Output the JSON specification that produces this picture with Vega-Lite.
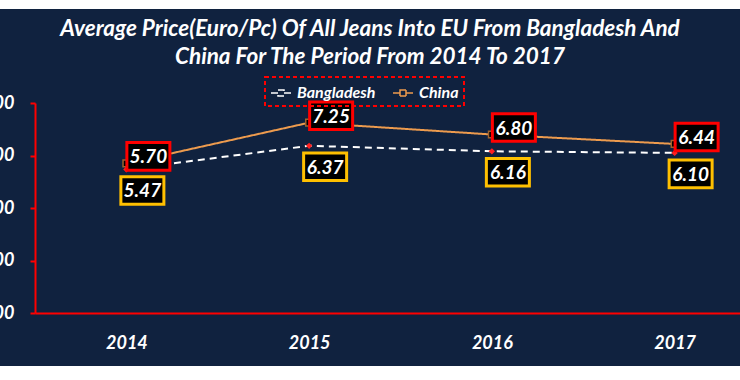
{
  "$schema": "https://vega.github.io/schema/vega-lite/v6.json",
  "autosize": {"type": "none"},
  "width": 740,
  "height": 357,
  "padding": {"left": 0, "top": 9, "right": 0, "bottom": 14},
  "background": "#ffffff",
  "title": {
    "text": ["Average Price(Euro/Pc) Of All Jeans Into EU From Bangladesh And", "China For The Period From 2014 To 2017"],
    "anchor": "middle",
    "orient": "top",
    "baseline": "top",
    "offset": -59,
    "font": "Lato",
    "fontSize": 22.5,
    "fontWeight": "bold",
    "fontStyle": "italic",
    "color": "#ffffff",
    "lineHeight": 28
  },
  "data": {
    "values": [
      {"year": "2014", "series": "Bangladesh", "price": 5.47},
      {"year": "2015", "series": "Bangladesh", "price": 6.37},
      {"year": "2016", "series": "Bangladesh", "price": 6.16},
      {"year": "2017", "series": "Bangladesh", "price": 6.10},
      {"year": "2014", "series": "China", "price": 5.70},
      {"year": "2015", "series": "China", "price": 7.25},
      {"year": "2016", "series": "China", "price": 6.80},
      {"year": "2017", "series": "China", "price": 6.44}
    ]
  },
  "encoding": {
    "x": {
      "field": "year", "type": "ordinal",
      "scale": {"type": "point", "range": [35, 766], "padding": 0.5},
      "axis": {
        "title": null, "orient": "bottom", "offset": -53, "labelAngle": 0,
        "ticks": false, "labelPadding": 21,
        "domainColor": "#ff0000", "domainWidth": 2,
        "labelFont": "Lato", "labelFontSize": 18, "labelFontWeight": "bold", "labelFontStyle": "italic", "labelColor": "#ffffff"
      }
    },
    "y": {
      "field": "price", "type": "quantitative",
      "scale": {"domain": [0, 8], "range": [304, 94], "nice": false, "zero": true},
      "axis": {
        "title": null, "orient": "left", "offset": -35, "values": [0, 2, 4, 6, 8], "format": ".2f",
        "grid": false, "tickColor": "#ff0000", "tickWidth": 2, "tickSize": 5, "labelPadding": 16,
        "domainColor": "#ff0000", "domainWidth": 2,
        "labelFont": "Lato", "labelFontSize": 18, "labelFontWeight": "bold", "labelFontStyle": "italic", "labelColor": "#ffffff"
      }
    }
  },
  "layer": [
    {
      "mark": {"type": "line", "strokeWidth": 2},
      "encoding": {
        "color": {
          "field": "series", "type": "nominal",
          "scale": {"domain": ["Bangladesh", "China"], "range": ["#ffffff", "#ED9B4E"]},
          "legend": {
            "title": null, "orient": "none", "legendX": 265, "legendY": 68, "direction": "horizontal",
            "symbolType": "M-1,0L-0.3,0M0.3,0L1,0M-0.3,-0.3L0.3,-0.3L0.3,0.3L-0.3,0.3Z",
            "symbolSize": 400, "symbolStrokeWidth": 1.5,
            "labelFont": "Lato", "labelFontSize": 16, "labelFontWeight": "bold", "labelFontStyle": "italic", "labelColor": "#ffffff",
            "strokeColor": "#ff0000", "padding": 5, "columnPadding": 14, "labelOffset": 5
          }
        },
        "strokeDash": {
          "field": "series", "type": "nominal",
          "scale": {"domain": ["Bangladesh", "China"], "range": [[7, 5], [1, 0]]},
          "legend": null
        }
      }
    },
    {
      "transform": [{"filter": "datum.series === 'China'"}],
      "mark": {"type": "point", "shape": "square", "filled": true, "fill": "#000000", "stroke": "#A0622D", "strokeWidth": 1.5, "size": 45, "opacity": 1}
    },
    {
      "transform": [{"filter": "datum.series === 'Bangladesh'"}],
      "mark": {"type": "point", "shape": "diamond", "filled": true, "color": "#ff2020", "size": 40, "opacity": 1}
    },
    {
      "transform": [{"filter": "datum.series === 'China'"}],
      "mark": {"type": "point", "shape": "M-1,-0.64L1,-0.64L1,0.64L-1,0.64Z", "filled": true, "fill": "#000000", "stroke": "#ff0000", "strokeWidth": 3, "size": 1849, "opacity": 1, "xOffset": 22, "yOffset": -7}
    },
    {
      "transform": [{"filter": "datum.series === 'China'"}],
      "mark": {"type": "text", "font": "Lato", "fontSize": 19, "fontWeight": "bold", "fontStyle": "italic", "color": "#ffffff", "xOffset": 22, "yOffset": -6, "baseline": "middle", "align": "center"},
      "encoding": {"text": {"field": "price", "type": "quantitative", "format": ".2f"}}
    },
    {
      "transform": [{"filter": "datum.series === 'Bangladesh'"}],
      "mark": {"type": "point", "shape": "M-1,-0.64L1,-0.64L1,0.64L-1,0.64Z", "filled": true, "fill": "#000000", "stroke": "#FFC000", "strokeWidth": 3, "size": 1849, "opacity": 1, "xOffset": 16, "yOffset": 21}
    },
    {
      "transform": [{"filter": "datum.series === 'Bangladesh'"}],
      "mark": {"type": "text", "font": "Lato", "fontSize": 19, "fontWeight": "bold", "fontStyle": "italic", "color": "#ffffff", "xOffset": 16, "yOffset": 22, "baseline": "middle", "align": "center"},
      "encoding": {"text": {"field": "price", "type": "quantitative", "format": ".2f"}}
    }
  ],
  "config": {
    "view": {"fill": "#10223F", "stroke": null},
    "legend": {"strokeDash": [4, 3], "strokeWidth": 2}
  }
}
